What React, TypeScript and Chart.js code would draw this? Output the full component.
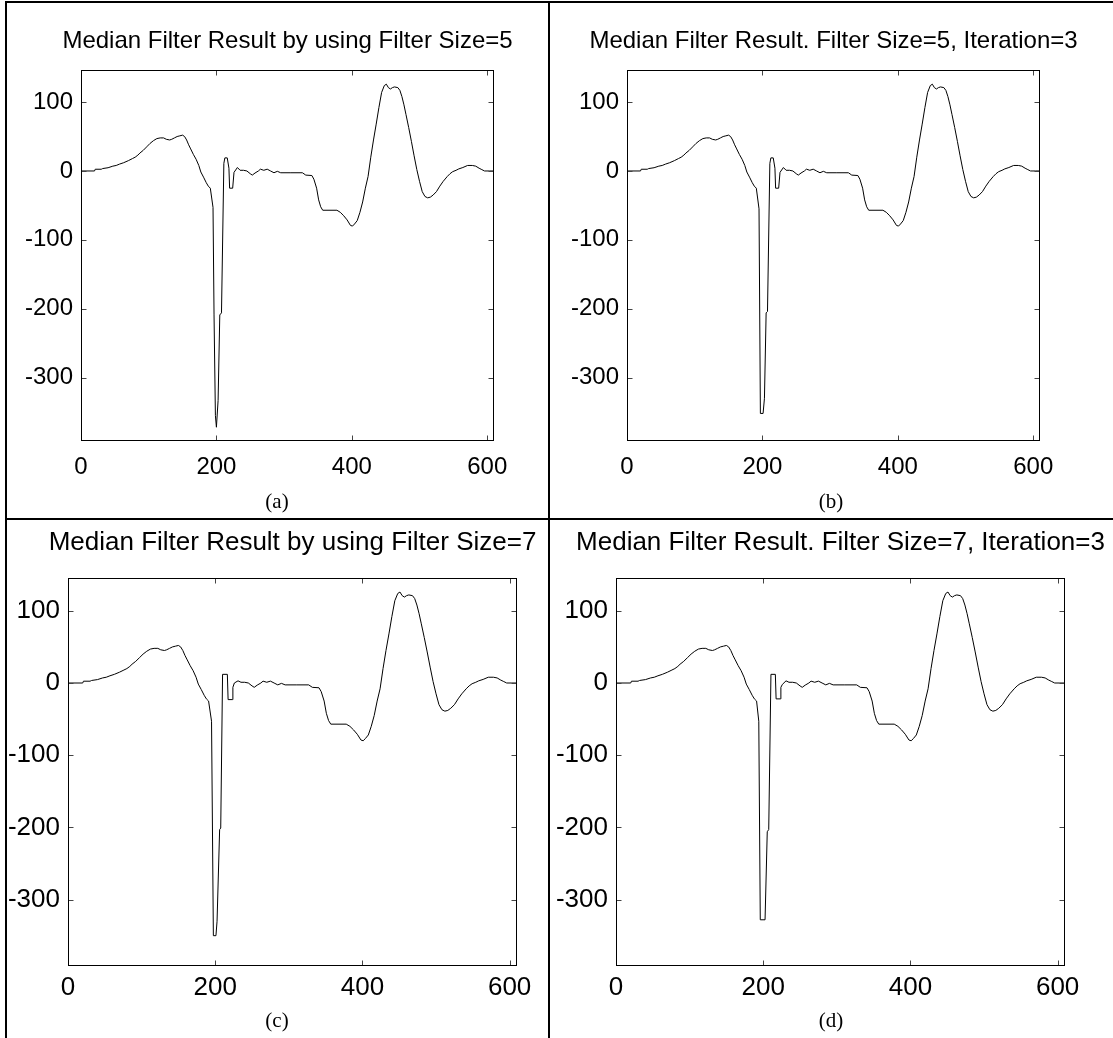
import React, { useEffect, useRef } from "react";
import { Chart, registerables } from "chart.js";

Chart.register(...registerables);

// ---------- data ----------
const xTickValues = [0, 200, 400, 600];
const yTickValues = [-300, -200, -100, 0, 100];
const xMin = 0;
const xMax = 610;
const yMin = -392;
const yMax = 146;

const titles = [
  "Median Filter Result by using Filter Size=5",
  "Median Filter Result. Filter Size=5, Iteration=3",
  "Median Filter Result by using Filter Size=7",
  "Median Filter Result. Filter Size=7, Iteration=3",
];
const captions = ["(a)", "(b)", "(c)", "(d)"];

// common part before the QRS spike
const preSpikeX = [0, 20, 21, 30, 32, 40, 47, 52, 57, 63, 70, 76, 80, 84, 87, 92, 97, 102, 107, 112, 117, 122, 126, 131, 134, 138, 142, 146, 150, 153, 156, 159, 162, 166, 170, 174, 177, 181, 185, 188, 191];
const preSpikeY = [0, 0, 2.5, 2.5, 3.5, 4.7, 7, 8, 10, 12, 15, 18, 20, 23, 26, 30, 35, 40, 44, 47, 48, 48, 46, 45, 46, 48, 50, 51, 52, 50, 45, 38, 32, 24, 17, 8, -1.5, -9, -17, -22, -25];

// spike region, one per panel
const spikeAX = [195, 196.5, 198.5, 200, 202.5, 205, 207.5, 211, 212.5, 216, 218.5, 219.5, 224, 226, 231];
const spikeAY = [-53, -209, -355, -372, -333, -209, -206, 11, 19, 19, 4, -25, -25, -2, 5];
const spikeBX = [195, 197, 201, 203, 205.5, 207.5, 211, 212.5, 216, 218.5, 219.5, 224, 226, 231];
const spikeBY = [-55, -352, -352, -330, -206, -204, 11, 19, 19, 4, -25, -25, -2, 5];
const spikeCX = [195, 197.5, 201, 202.5, 206, 207.5, 210, 216.5, 217.5, 223.5, 224, 226, 231];
const spikeCY = [-53, -350, -350, -330, -203, -201, 12, 12, -23, -23, -6, 0, 3];
const spikeDX = [194, 196, 202.5, 205.5, 207.5, 210.5, 216.5, 217.5, 223.5, 224, 226, 231];
const spikeDY = [-53, -328, -328, -206, -203, 12, 12, -22, -22, -6, -2, 3];

// common part after the spike
const postSpikeX = [235, 240, 245, 250, 253, 257, 262, 265, 270, 275, 280, 285, 290, 295, 310, 327, 332, 341, 344, 348, 351, 354, 357, 378, 383, 388, 393, 398, 401, 404, 408, 412, 416, 420, 424, 428, 432, 436, 440, 444, 448, 451, 454, 457, 460, 463, 468, 471, 474, 477, 480, 484, 488, 492, 496, 500, 504, 508, 512, 516, 520, 525, 530, 535, 541, 545, 549, 554, 558, 564, 571, 578, 583, 588, 592, 596, 603, 609];
const postSpikeY = [1, 1, 0, -4, -6, -3, 0, 2.6, 1, 2.6, 0, -2.6, -0.5, -2.6, -2.6, -2.6, -6, -6.6, -12, -25, -42, -52, -57, -57, -60, -65, -71, -79, -80, -77, -72, -60, -45, -25, -8, 20, 45, 68, 92, 114, 124, 126, 121, 119, 121, 122, 121, 117, 108, 96, 82, 63, 43, 22, 2, -15, -30, -37, -39, -38, -35, -30, -22, -15, -8, -4, -1, 1, 3, 5, 8, 8, 7, 4, 2, 0, 0, 0];

const seriesX = [
  [...preSpikeX, ...spikeAX, ...postSpikeX],
  [...preSpikeX, ...spikeBX, ...postSpikeX],
  [...preSpikeX, ...spikeCX, ...postSpikeX],
  [...preSpikeX, ...spikeDX, ...postSpikeX],
];
const seriesY = [
  [...preSpikeY, ...spikeAY, ...postSpikeY],
  [...preSpikeY, ...spikeBY, ...postSpikeY],
  [...preSpikeY, ...spikeCY, ...postSpikeY],
  [...preSpikeY, ...spikeDY, ...postSpikeY],
];

// ---------- layout ----------
type Box = {
  l: number; t: number; r: number; b: number;
  titleY: number; captionX: number; captionY: number;
  tick: number; titleSize: number; xPad: number; yPad: number;
};
const layout: Box[] = [
  { l: 81, t: 60, r: 494, b: 441, titleY: 40, captionX: 277, captionY: 501, tick: 24, titleSize: 24, xPad: 12, yPad: 8 },
  { l: 627, t: 60, r: 1040, b: 441, titleY: 40, captionX: 831, captionY: 501, tick: 24, titleSize: 24, xPad: 12, yPad: 8 },
  { l: 68, t: 566, r: 517, b: 966, titleY: 541, captionX: 277, captionY: 1020, tick: 26, titleSize: 26, xPad: 6, yPad: 8 },
  { l: 616, t: 566, r: 1065, b: 966, titleY: 541, captionX: 831, captionY: 1020, tick: 26, titleSize: 26, xPad: 6, yPad: 8 },
];

const SANS = '"Liberation Sans", Arial, Helvetica, sans-serif';
const SERIF = '"Liberation Serif", "Times New Roman", serif';

const framePlugin = {
  id: "matlabFrame",
  afterDraw(chart: any) {
    const { ctx, chartArea: a } = chart;
    const sx = chart.scales.x;
    const sy = chart.scales.y;
    const L = Math.round(a.left) + 0.5;
    const R = Math.round(a.right) - 0.5;
    const T = Math.round(a.top) + 0.5;
    const B = Math.round(a.bottom) - 0.5;
    ctx.save();
    ctx.lineWidth = 1;
    ctx.strokeStyle = "#444";
    ctx.beginPath();
    sx.ticks.forEach((t: any) => {
      const px = Math.round(sx.getPixelForValue(t.value)) + 0.5;
      ctx.moveTo(px, B);
      ctx.lineTo(px, B - 5);
      ctx.moveTo(px, T);
      ctx.lineTo(px, T + 5);
    });
    sy.ticks.forEach((t: any) => {
      const py = Math.round(sy.getPixelForValue(t.value)) + 0.5;
      ctx.moveTo(L, py);
      ctx.lineTo(L + 5, py);
      ctx.moveTo(R, py);
      ctx.lineTo(R - 5, py);
    });
    ctx.stroke();
    ctx.strokeStyle = "#000";
    ctx.strokeRect(L, T, R - L, B - T);
    ctx.restore();
  },
};

const PAD_L = 80;
const PAD_T = 12;
const PAD_R = 30;
const PAD_B = 56;

function Panel({ idx }: { idx: number }) {
  const ref = useRef<HTMLCanvasElement>(null);
  const p = layout[idx];
  const w = p.r - p.l;
  const h = p.b - p.t;
  const cw = PAD_L + w + PAD_R;
  const ch = PAD_T + h + PAD_B;

  useEffect(() => {
    const xs = seriesX[idx];
    const ys = seriesY[idx];
    const data = xs.map((x, i) => ({ x, y: ys[i] }));
    const chart = new Chart(ref.current as HTMLCanvasElement, {
      type: "line",
      data: {
        datasets: [
          {
            data,
            borderColor: "#000",
            borderWidth: 1,
            pointRadius: 0,
            tension: 0,
            fill: false,
          },
        ],
      },
      options: {
        animation: false,
        responsive: false,
        maintainAspectRatio: false,
        devicePixelRatio: 1,
        events: [],
        layout: { padding: { top: PAD_T, right: PAD_R, left: 0, bottom: 0 } },
        plugins: {
          legend: { display: false },
          title: { display: false },
          tooltip: { enabled: false },
        },
        scales: {
          x: {
            type: "linear",
            min: xMin,
            max: xMax,
            grid: { display: false, drawTicks: false, tickLength: 0 },
            border: { display: false },
            afterBuildTicks: (s: any) => {
              s.ticks = xTickValues.map((v) => ({ value: v }));
            },
            afterFit: (s: any) => {
              s.height = PAD_B;
            },
            ticks: {
              color: "#000",
              font: { family: SANS, size: p.tick },
              padding: p.xPad,
              maxRotation: 0,
              autoSkip: false,
              callback: (v: any) => String(v),
            },
          },
          y: {
            type: "linear",
            min: yMin,
            max: yMax,
            grid: { display: false, drawTicks: false, tickLength: 0 },
            border: { display: false },
            afterBuildTicks: (s: any) => {
              s.ticks = yTickValues.map((v) => ({ value: v }));
            },
            afterFit: (s: any) => {
              s.width = PAD_L;
            },
            ticks: {
              color: "#000",
              font: { family: SANS, size: p.tick },
              padding: p.yPad,
              autoSkip: false,
              callback: (v: any) => String(v),
            },
          },
        },
      } as any,
      plugins: [framePlugin],
    });
    return () => chart.destroy();
  }, [idx]);

  return (
    <>
      <canvas
        ref={ref}
        width={cw}
        height={ch}
        style={{ position: "absolute", left: p.l - PAD_L, top: p.t - PAD_T, width: cw, height: ch }}
      />
      <div
        style={{
          position: "absolute",
          left: (p.l + p.r) / 2,
          top: p.titleY,
          transform: "translate(-50%, -50%)",
          whiteSpace: "nowrap",
          fontFamily: SANS,
          fontSize: p.titleSize,
          lineHeight: 1,
          color: "#000",
        }}
      >
        {titles[idx]}
      </div>
      <div
        style={{
          position: "absolute",
          left: p.captionX,
          top: p.captionY,
          transform: "translate(-50%, -50%)",
          whiteSpace: "nowrap",
          fontFamily: SERIF,
          fontSize: 21,
          lineHeight: 1,
          color: "#000",
        }}
      >
        {captions[idx]}
      </div>
    </>
  );
}

export default function App() {
  const line = (s: React.CSSProperties) => (
    <div style={{ position: "absolute", background: "#000", ...s }} />
  );
  return (
    <div
      style={{
        position: "absolute",
        left: 0,
        top: 0,
        width: 1113,
        height: 1038,
        background: "#fff",
        overflow: "hidden",
      }}
    >
      {[0, 1, 2, 3].map((i) => (
        <Panel key={i} idx={i} />
      ))}
      {line({ left: 5, top: 1, width: 1108, height: 2 })}
      {line({ left: 5, top: 1, width: 2, height: 1037 })}
      {line({ left: 548, top: 1, width: 2, height: 1037 })}
      {line({ left: 5, top: 518, width: 1108, height: 2 })}
    </div>
  );
}
